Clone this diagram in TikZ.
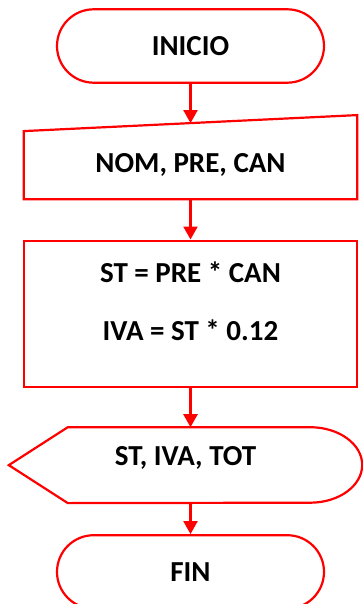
\documentclass[tikz,border=0pt]{standalone}
\usepackage{fontspec}
\setmainfont{Carlito}
\usetikzlibrary{positioning,arrows.meta}

\begin{document}
\begin{tikzpicture}
	[flow/.style={draw=red, line width=2.2pt},
	 arr/.style={red, line width=2.2pt, -{Triangle[width=14pt,length=13pt]}},
	 txt/.style={font=\fontsize{29}{34}\selectfont\bfseries, inner sep=0pt},
	 term/.style={flow, txt, rounded corners=36.7pt, minimum width=267pt, minimum height=73.4pt},
	 inbox/.style={txt, minimum width=333pt, minimum height=67.7pt},
	 procbox/.style={flow, minimum width=333pt, minimum height=146pt},
	 outbox/.style={txt, minimum width=353pt, minimum height=75.5pt, text height=20pt, text depth=20pt}]
	\useasboundingbox (0,0) rectangle (362pt,-604pt);
	\node[term] (start) at (190.5pt,-46pt) {INICIO};
	\node[inbox, below=47.3pt of start] (in) {NOM, PRE, CAN};
	\draw[flow] (in.south west) -- (in.north west) -- ([yshift=16pt]in.north east) -- (in.south east) -- cycle;
	\coordinate (in top) at ([yshift=8pt]in.north);
	\node[procbox, below=40.3pt of in] (proc) {};
	\node[txt] (st) at ([yshift=41pt]proc.center) {ST = PRE * CAN};
	\node[txt] (iva) at ([yshift=-17pt]proc.center) {IVA = ST * 0.12};
	\node[outbox, below=39.5pt of proc, xshift=-5pt] (out) {ST, IVA, TOT};
	\draw[flow] (out.west) -- ([xshift=59pt]out.north west) -- ([xshift=-52pt]out.north east)
		arc[start angle=90, end angle=-90, x radius=52pt, y radius=37.75pt]
		-- ([xshift=59pt]out.south west) -- cycle;
	\node[term, below=31pt of out, xshift=5pt] (fin) {FIN};
	\draw[arr] (start) -- (in top);
	\draw[arr] (in) -- (proc);
	\draw[arr] (proc) -- (proc |- out.north);
	\draw[arr] (out.south -| fin) -- (fin);
\end{tikzpicture}
\end{document}
